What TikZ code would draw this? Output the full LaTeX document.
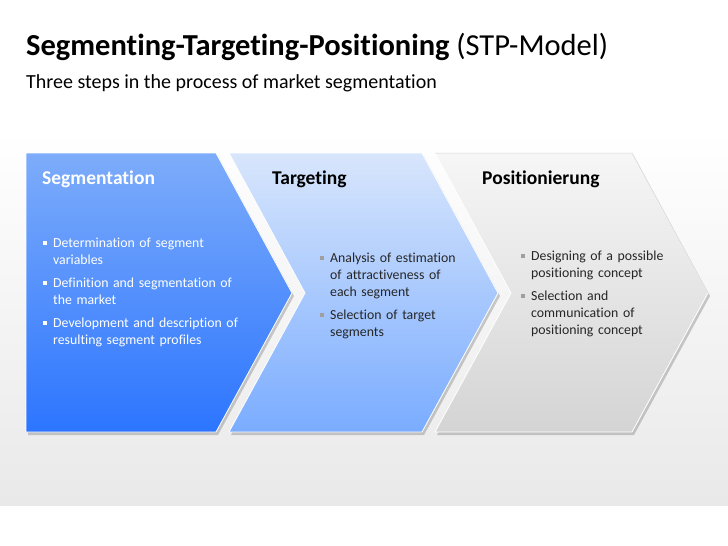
\documentclass[tikz,border=0pt]{standalone}
\usepackage{fontspec}
\setmainfont{Carlito}[Ligatures=NoCommon]
\usepackage{enumitem}
\usetikzlibrary{shadows}

\definecolor{segtop}{RGB}{125,172,250}
\definecolor{segbot}{RGB}{44,117,255}
\definecolor{tgttop}{RGB}{216,230,252}
\definecolor{tgtbot}{RGB}{122,172,255}
\definecolor{postop}{RGB}{246,246,246}
\definecolor{posbot}{RGB}{212,212,212}
\definecolor{bodytext}{RGB}{38,38,38}
\definecolor{bgband}{RGB}{233,233,233}

\newcommand{\bsq}[1]{\textcolor{#1}{\raisebox{2.4pt}{\rule{4pt}{4pt}}}}
\setlist[itemize]{label=\bsq{white},leftmargin=11.5pt,labelsep=6.5pt,
  itemsep=6pt,topsep=0pt,parsep=0pt,partopsep=0pt}

\tikzset{
  chevron/.style={draw=white,line width=0.8pt,
    drop shadow={shadow xshift=2pt,shadow yshift=-3pt,opacity=0.4}},
  header/.style={anchor=base west,inner sep=0pt,font=\fontsize{19.5}{22}\selectfont\bfseries},
  bullets/.style={anchor=north west,inner sep=0pt,text width=220pt,align=left,
    font=\fontsize{13.8}{17}\selectfont}
}

\begin{document}
\begin{tikzpicture}[x=1pt,y=-1pt]
    \useasboundingbox (0,0) rectangle (728,546);
\fill[white] (0,0) rectangle (728,546); % page
\shade[top color=white,bottom color=bgband] (0,130) rectangle (728,505); % band
\path[chevron,top color=segtop,bottom color=segbot] (26,153) -- (216,153) -- (292,293) -- (216,432) -- (26,432) -- cycle; % Segmentation
\path[chevron,top color=tgttop,bottom color=tgtbot] (229,153) -- (422,153) -- (498,293) -- (422,432) -- (229,432) -- (305,293) -- cycle; % Targeting
\path[chevron,top color=postop,bottom color=posbot] (435,153) -- (632,153) -- (708,293) -- (632,432) -- (435,432) -- (511,293) -- cycle; % Positionierung
\draw[gray!35,line width=0.5pt] (435,153) -- (632,153) -- (708,293); % Positionierung edge
\node[anchor=base west,inner sep=0pt,font=\fontsize{30.5}{34}\selectfont] (title) at (26,55) {\textbf{Segmenting-Targeting-Positioning} (STP-Model)}; % title
\node[anchor=base west,inner sep=0pt,font=\fontsize{20}{24}\selectfont] (subtitle) at (26,88) {Three steps in the process of market segmentation}; % subtitle
\node[header,text=white] (seghead) at (42,184) {Segmentation}; % head.1
\node[header,text=black] (tgthead) at (272,184) {Targeting}; % head.2
\node[header,text=black] (poshead) at (482,184) {Positionierung}; % head.3
\node[bullets,text=white] (segbody) at (41.5,230) {\begin{itemize}
  \item Determination of segment\newline variables
  \item Definition and segmentation of\newline the market
  \item Development and description of\newline resulting segment profiles
\end{itemize}}; % body.1
\node[bullets,text=bodytext] (tgtbody) at (318.5,245) {\begin{itemize}[label=\bsq{gray!75}]
  \item Analysis of estimation\newline of attractiveness of\newline each segment
  \item Selection of target\newline segments
\end{itemize}}; % body.2
\node[bullets,text=bodytext] (posbody) at (519.5,243) {\begin{itemize}[label=\bsq{gray!75}]
  \item Designing of a possible\newline positioning concept
  \item Selection and\newline communication of\newline positioning concept
\end{itemize}}; % body.3

    \end{tikzpicture}
\end{document}
